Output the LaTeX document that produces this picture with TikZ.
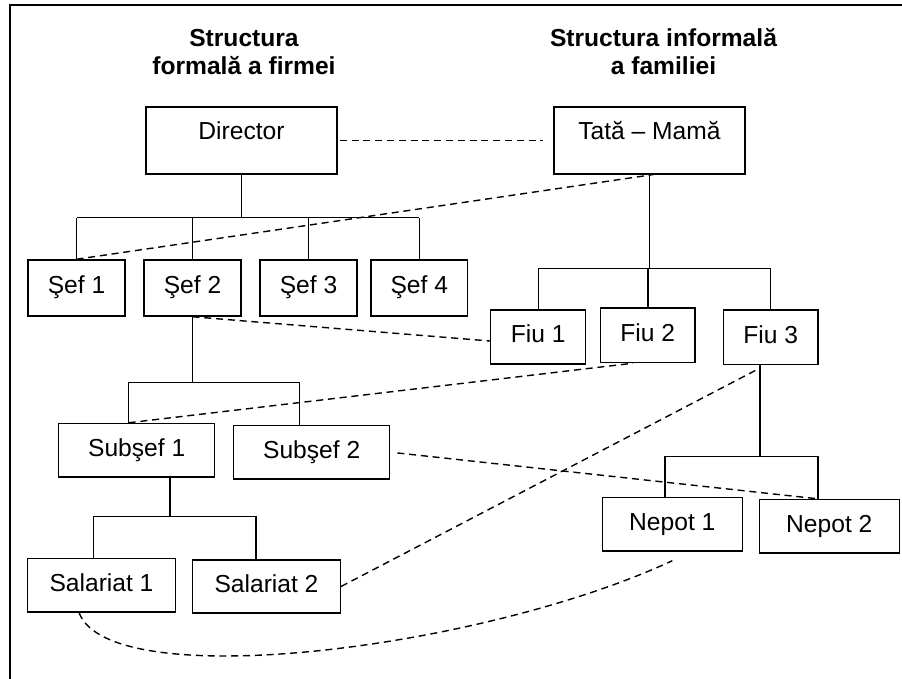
\documentclass[tikz,border=0pt]{standalone}
\usepackage{fontspec}
\setmainfont{Liberation Sans}
\usetikzlibrary{calc}

\begin{document}
\begin{tikzpicture}[x=0.5pt, y=-0.5pt,
    every node/.style={font=\fontsize{12.3}{14.2}\selectfont},
    box/.style={rectangle, draw, line width=0.75pt, inner sep=0pt, text height=9pt, text depth=3pt, minimum height=26.7pt},
    topbox/.style={box, text height=16.3pt, text depth=17pt, minimum width=95.6pt},
    ttl/.style={align=center, font=\fontsize{12.3}{14.2}\selectfont\bfseries},
    tree/.style={line width=0.7pt},
    link/.style={line width=0.7pt, dash pattern=on 3.5pt off 2.4pt},
]
\useasboundingbox (0,0) rectangle (902,679);
\draw[line width=0.7pt] (10,679) -- (10,5) -- (902,5);

\node[ttl] (tform) at (244,51.8) {Structura\\formală a firmei};
\node[ttl] (tinf) at (663.5,51.8) {Structura informală\\a familiei};

% firma
\node[topbox] (dir) at (241.5,140.5) {Director};
\foreach \i/\x in {1/76.5, 2/192.5, 3/308.5, 4/419.3}
  \node[box, minimum width=48.4pt, minimum height=28pt] (s\i) at (\x,288) {Şef \i};
\node[box, minimum width=78pt] (sub1) at (136.7,450.2) {Subşef 1};
\node[box, minimum width=78pt] (sub2) at (311.7,452.2) {Subşef 2};
\node[box, minimum width=73.8pt] (sal1) at (101.5,585.3) {Salariat 1};
\node[box, minimum width=73.8pt] (sal2) at (266.5,586.5) {Salariat 2};

% familia
\node[topbox] (tata) at (649.4,140.5) {Tată – Mamă};
\node[box, minimum width=47.5pt, minimum height=27.2pt] (fiu1) at (538.2,337) {Fiu 1};
\node[box, minimum width=47.2pt, minimum height=27.2pt] (fiu2) at (647.8,335.3) {Fiu 2};
\node[box, minimum width=47.3pt, minimum height=27.2pt] (fiu3) at (770.7,337.3) {Fiu 3};
\node[box, minimum width=70pt] (nep1) at (672.3,524.3) {Nepot 1};
\node[box, minimum width=70pt] (nep2) at (829.3,526.3) {Nepot 2};

% legaturi formale
\draw[tree] (dir.south) -- ++(0,43) coordinate (jd);
\draw[tree] (s1.north |- jd) -- (s4.north |- jd);
\foreach \n in {s1,s2,s3,s4}
  \draw[tree] (\n.north) -- (\n.north |- jd);
\coordinate (a1) at ([xshift=-4pt]sub1.north);
\coordinate (a2) at ([xshift=-6.2pt]sub2.north);
\draw[tree] (s2.south) -- ++(0,66) coordinate (j2);
\draw[tree] (a1) |- (j2) -| (a2);
\draw[tree] ([xshift=16.7pt]sub1.south) -- ++(0,39) coordinate (j3);
\draw[tree] ([xshift=-4.1pt]sal1.north) |- (j3) -| ([xshift=-5.2pt]sal2.north);

% legaturi familie
\draw[tree] (tata.south) -- ++(0,94) coordinate (jt);
\draw[tree] (fiu1.north) |- (jt) -| (fiu3.north);
\draw[tree] (fiu2.north) -- (fiu2.north |- jt);
\coordinate (b2) at ([xshift=-5.6pt]nep2.north);
\draw[tree] ([xshift=-5.3pt]fiu3.south) -- ++(0,91) coordinate (j4);
\draw[tree] ([xshift=-3.7pt]nep1.north) |- (j4) -| (b2);

% legaturi informale
\draw[link, shorten <=1pt, shorten >=5pt] (dir.east) -- (tata.west);
\draw[link] (s1.north) -- ([xshift=2pt]tata.south);
\draw[link] (s2.south) -- ([yshift=-2pt]fiu1.west);
\draw[link] (a1) -- ([xshift=-7.5pt]fiu2.south);
\draw[link] (sal2.east) -- ([xshift=-6.5pt, yshift=-2pt]fiu3.south);
\draw[link, shorten <=3.5pt] (sub2.east) -- (b2);
\draw[link] ([xshift=-11.2pt]sal1.south) .. controls (110,695) and (480,650) .. ([yshift=-4.5pt]nep1.south);
\end{tikzpicture}
\end{document}
